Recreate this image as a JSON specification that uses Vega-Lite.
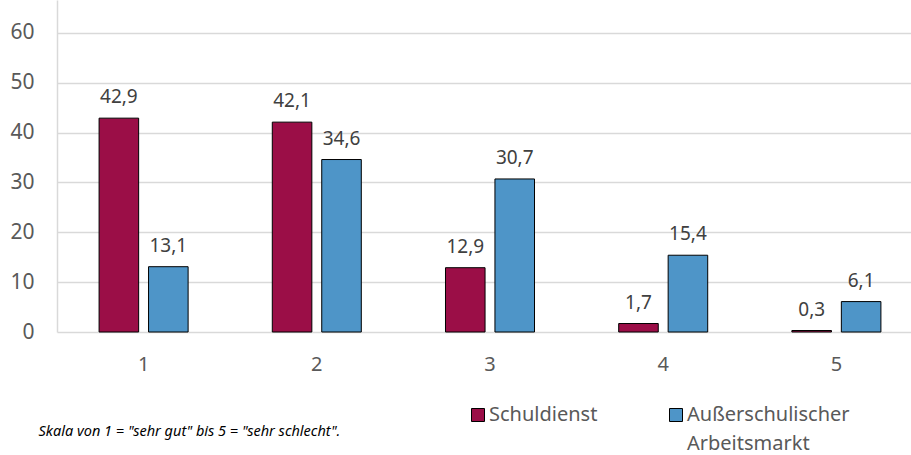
{
  "$schema": "https://vega.github.io/schema/vega-lite/v6.json",
  "width": 854,
  "height": 332,
  "autosize": {"type": "none"},
  "padding": {"left": 57, "top": 0, "right": 0, "bottom": 123},
  "background": "white",
  "config": {
    "locale": {"number": {"decimal": ",", "thousands": ".", "grouping": [3], "currency": ["", " €"]}},
    "font": "Noto Sans",
    "view": {"stroke": null},
    "style": {"guide-label": {"lineHeight": 29}}
  },
  "data": {
    "values": [
      {"kategorie": "1", "gruppe": "Schuldienst", "wert": 42.9},
      {"kategorie": "1", "gruppe": "Außerschulischer Arbeitsmarkt", "wert": 13.1},
      {"kategorie": "2", "gruppe": "Schuldienst", "wert": 42.1},
      {"kategorie": "2", "gruppe": "Außerschulischer Arbeitsmarkt", "wert": 34.6},
      {"kategorie": "3", "gruppe": "Schuldienst", "wert": 12.9},
      {"kategorie": "3", "gruppe": "Außerschulischer Arbeitsmarkt", "wert": 30.7},
      {"kategorie": "4", "gruppe": "Schuldienst", "wert": 1.7},
      {"kategorie": "4", "gruppe": "Außerschulischer Arbeitsmarkt", "wert": 15.4},
      {"kategorie": "5", "gruppe": "Schuldienst", "wert": 0.3},
      {"kategorie": "5", "gruppe": "Außerschulischer Arbeitsmarkt", "wert": 6.1}
    ]
  },
  "encoding": {
    "x": {
      "field": "kategorie", "type": "nominal",
      "scale": {"range": [0, 866], "paddingInner": 0.486, "paddingOuter": 0.243},
      "axis": {
        "title": "Skala von 1 = \"sehr gut\" bis 5 = \"sehr schlecht\".",
        "titleX": -19, "titleY": 99, "titleAlign": "left", "titleBaseline": "middle",
        "titleFontStyle": "italic", "titleFontWeight": "normal", "titleFontSize": 14.5, "titleColor": "#000000",
        "labelAngle": 0, "labelFontSize": 20, "labelColor": "#595959", "labelPadding": 22,
        "ticks": false, "domain": false
      }
    },
    "xOffset": {
      "field": "gruppe", "type": "nominal",
      "sort": ["Schuldienst", "Außerschulischer Arbeitsmarkt"],
      "scale": {"paddingInner": 0.2, "paddingOuter": 0}
    },
    "y": {
      "field": "wert", "type": "quantitative",
      "scale": {"domain": [0, 66.6], "nice": false, "zero": true},
      "axis": {
        "title": null, "values": [0, 10, 20, 30, 40, 50, 60],
        "labelFontSize": 21, "labelColor": "#595959", "labelPadding": 23,
        "ticks": false, "domain": true, "domainColor": "#d9d9d9", "domainWidth": 1.5,
        "gridColor": "#d9d9d9", "gridWidth": 1.5
      }
    }
  },
  "layer": [
    {
      "mark": {"type": "bar", "stroke": "#000000", "strokeWidth": 1},
      "encoding": {
        "color": {
          "field": "gruppe", "type": "nominal",
          "sort": ["Schuldienst", "Außerschulischer Arbeitsmarkt"],
          "scale": {"domain": ["Schuldienst", "Außerschulischer Arbeitsmarkt"], "range": ["#9B0E47", "#4E95C8"]},
          "legend": {
            "title": null, "orient": "none", "direction": "horizontal",
            "legendX": 411, "legendY": 405,
            "symbolType": "square", "symbolSize": 169, "symbolStrokeColor": "#000000", "symbolStrokeWidth": 1,
            "labelFontSize": 20, "labelColor": "#595959", "labelOffset": 1,
            "labelLimit": 300, "columnPadding": 68, "labelBaseline": "middle",
            "labelExpr": "datum.label == 'Außerschulischer Arbeitsmarkt' ? ['Außerschulischer', 'Arbeitsmarkt'] : [datum.label, '']"
          }
        }
      }
    },
    {
      "mark": {"type": "text", "baseline": "alphabetic", "dy": -15, "fontSize": 19, "color": "#404040"},
      "encoding": {
        "text": {"field": "wert", "type": "quantitative", "format": ".1f"}
      }
    }
  ]
}
